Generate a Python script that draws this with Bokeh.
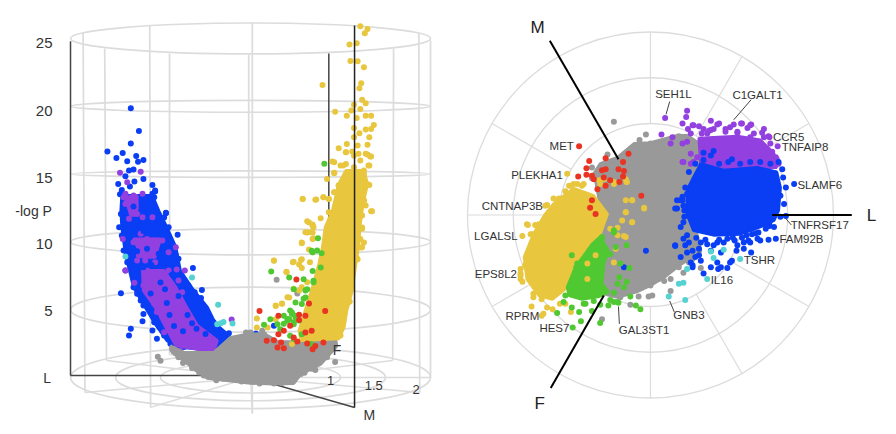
from bokeh.plotting import figure
from bokeh.layouts import row
from bokeh.embed import file_html
from bokeh.resources import INLINE
from bokeh.core.properties import value
import math

# ---------- left panel: projected fold (x) against -log P (y) ----------
ring_levels = [25, 20, 15, 10, 5, 0]
ring_flatness = [1.14, .44, .24, .96, 1.66, 2.29]
floor_radii = [1, 1.5]
wall_x0 = [-1.86, -1.62, -1.12, -0.9, 0.02, -0.02, 1.59, 1.87, 2.0]
wall_y0 = [25.44, 24.26, 25.96, 23.9, 26.18, 23.8, 24.26, 25.37, 24.85]
wall_x1 = [-1.84, -1.6, -1.11, -0.9, 0.02, -0.02, 1.58, 1.88, 2.0]
wall_y1 = [-1.11, 1.25, -2.21, 1.7, -2.65, 1.84, 1.25, -1.11, 0]

left_blue_core = [(-1.43,13.42),(-1.44,12.31),(-1.43,11.08),(-1.39,9.12),(-1.30,6.66),(-1.17,5.18),(-1.06,3.96),(-0.93,2.73),(-0.81,2.24),(-0.41,1.99),(-0.24,3.10),(-0.39,3.96),(-0.48,5.18),(-0.63,6.41),(-0.78,7.89),(-0.83,9.61),(-0.93,11.08),(-1.02,12.31),(-1.09,13.42)]
left_purple_core = [(-1.20,7.89),(-1.19,6.41),(-1.06,5.18),(-0.94,3.71),(-0.83,2.36),(-0.41,1.87),(-0.37,2.73),(-0.59,3.83),(-0.72,5.31),(-0.83,6.66),(-0.96,7.89)]
left_purple_mid = [(-1.30,10.22),(-1.0,10.22),(-1.06,8.87),(-1.20,8.87)]
left_purple_top = [(-1.39,13.29),(-1.26,13.42),(-1.26,12.43),(-1.33,11.94)]
left_gray_core = [(-0.89,2.33),(-0.74,1.84),(-0.41,1.84),(-0.22,2.95),(-0.04,3.19),(0.15,3.24),(0.30,2.65),(0.89,2.58),(0.94,2.9),(0.96,2.33),(0.78,0.98),(0.56,0.25),(0.48,-0.44),(0.26,-0.49),(0,-0.42),(-0.48,-0.05),(-0.59,0.44),(-0.74,1.23),(-0.87,1.84)]
left_yellow_core = [(1.06,15.26),(1.26,15.26),(1.30,14.27),(1.25,12.8),(1.22,11.33),(1.20,9.61),(1.17,8.38),(1.13,6.41),(1.07,4.94),(1.04,3.71),(0.98,2.85),(0.56,2.73),(0.54,3.46),(0.63,5.43),(0.70,6.90),(0.76,8.38),(0.80,9.61),(0.83,11.08),(0.91,12.31),(0.98,14.27)]

left_blue = [(-1.33,19.85),(-1.24,18.18),(-1.33,17.25),(-1.59,16.66),(-1.49,16.19),(-1.42,16.56),(-1.27,16.34),(-1.19,16.04),(-1.37,15.95),(-1.25,15.9),(-1.35,15.26),(-1.30,15.33),(-1.39,14.84),(-1.19,14.64),(-1.47,14.27),(-1.29,14.45),(-1.09,14.2),(-1.43,13.83),(-1.06,13.71),(-1.45,13.51),(-1.34,14.08),(-1.07,13.29),(-1.11,12.85),(-1.41,12.56),(-0.94,12.14),(-1.43,12.06),(-1.22,12.56),(-1.17,12.06),(-0.96,11.8),(0.06,3.24),(0.26,3.81)]
left_blue_edge = [(-1.46,11.08),(-1.43,10.47),(-1.41,9.36),(-1.37,8.50),(-1.44,6.22),(-1.26,6.17),(-1.19,5.31),(-1.19,4.69),(-1.20,4.15),(-1.33,3.59),(-1.35,3.10),(-1.07,4.08),(-1.04,2.85),(-0.96,3.10),(-1.09,3.46),(-0.89,2.48),(-0.94,12.11),(-0.98,11.70),(-0.91,11.08),(-0.81,10.52),(-0.87,9.73),(-0.83,8.99),(-0.80,8.75),(-0.85,8.01),(-0.64,8.08),(-0.69,6.78),(-0.62,6.29),(-0.54,6.46),(-0.55,5.87),(-0.46,4.57),(-0.41,4.08),(-0.24,3.27),(-0.33,3.34),(-1.39,7.89),(-1.30,6.66),(-1.22,5.68),(-1.13,5.18),(-1.09,13.54),(-1.06,13.78),(-1.11,12.80),(-1.19,12.56),(-1.44,12.06),(-1.43,13.54),(-1.0,11.33),(-1.04,10.96),(-0.78,7.64),(-0.67,6.17),(-0.59,5.43),(-0.52,4.94),(-0.44,3.71),(-0.37,3.22),(-0.30,2.97),(-0.59,4.45),(-0.70,3.96),(-0.74,4.94),(-0.63,3.46),(-0.48,2.97),(-0.56,2.48),(-0.74,2.24)]
left_purple = [(-1.45,15.09),(-1.22,15.18),(-1.37,14.4),(-1.20,13.54),(-1.41,13.29),(-1.37,13.05),(-1.31,12.92),(-1.28,12.43),(-1.39,13.54),(-1.26,12.06),(-1.33,12.43),(-1.20,11.82),(-1.39,12.8),(-1.33,12.80),(-1.28,12.68),(-1.30,13.42),(-1.30,12.06),(-1.35,11.70),(-1.22,10.59),(-1.15,10.22),(-1.07,10.10),(-1.30,9.98),(-1.22,9.73),(-1.13,9.61),(-1.20,9.24),(-1.24,8.99),(-1.11,9.12),(-1.17,8.62),(-1.26,8.62),(-1.06,8.50),(-1.09,7.76),(-1.02,7.64),(-1.15,7.89),(-1.11,7.27),(-0.96,7.27),(-1.19,6.78),(-0.91,7.89),(-0.83,9.61),(-0.73,7.89),(-0.82,7.96),(-1.39,7.89),(-1.29,6.98),(-1.42,10.22),(-1.09,11.82),(-0.98,10.10),(-0.91,9.24),(-0.80,7.15),(-0.76,6.29),(-1.04,4.82),(-1.07,5.43),(-0.96,5.18),(-0.74,4.20),(-0.67,4.32),(-0.56,2.85),(-0.96,3.34),(-0.83,2.97),(-0.74,2.85),(-0.56,2.11),(-0.78,1.99),(-0.21,4.28),(-0.16,1.74),(-0.11,1.87),(-0.26,1.87),(-0.41,1.70),(-0.48,1.99),(-0.63,2.24),(-0.81,4.32),(-0.87,5.43)]
left_blue_over = [(-1.02,9.12),(-0.98,8.50),(-1.19,8.13),(-0.93,5.5),(-1.11,6.2),(-0.87,7.6),(-1.19,10.8),(-1.25,11.5),(-1.0,7.0),(-0.95,6.5),(-0.7,4.6),(-0.6,3.6),(-0.5,3.2),(-0.85,3.8),(-1.05,4.4),(-1.26,9.3),(-1.15,9.5),(-1.1,8.3),(-1.3,11.0),(-1.15,11.2),(-0.8,6.0),(-0.65,4.0),(-0.9,4.6),(-0.75,3.4),(-1.3,12.6)]
left_teal = [(-1.39,8.92),(-0.65,7.37),(-0.36,5.36),(-0.37,3.93),(-0.30,4.1),(-0.2,3.98),(-0.33,4.0)]
left_gray = [(-1.03,1.52),(-1.0,1.23),(-0.75,1.06),(-0.87,2.09),(0.29,7.2),(0.52,6.19),(0.94,1.15),(-0.05,3.32),(0,3.32),(0.13,3.44),(0.15,3.19),(0.48,-0.25),(0.26,-0.45),(-0.46,0.05),(-0.57,0.37),(0.87,2.58),(0.93,2.7),(0.93,2.46),(0.70,0.98),(0.56,0.25),(-0.19,-0.12),(-0.3,-0.1),(-0.1,-0.3),(0.1,-0.45),(0.35,-0.4),(0.42,-0.2),(0.6,0.35),(0.68,0.65),(0.85,1.5),(-0.52,0.15),(-0.65,0.7),(-0.8,1.5),(-0.38,-0.2),(0.72,0.55)]
left_yellow = [(1.22,25.9),(1.30,25.7),(1.27,25.38),(1.10,24.55),(1.18,24.64),(1.11,23.34),(1.19,23.32),(1.26,22.87),(0.80,21.57),(1.23,21.7),(1.21,21.33),(1.24,20.49),(1.28,20.22),(1.15,20.12),(0.94,19.6),(1.12,19.68),(1.22,19.8),(1.07,19.31),(1.18,19.14),(1.28,19.31),(1.34,19.31),(1.37,18.62),(1.28,18.28),(1.34,18.33),(1.15,18.4),(1.21,18.01),(1.32,17.71),(1.15,17.71),(1.30,17.17),(0.98,16.9),(1.07,17.22),(1.19,17.1),(1.06,16.61),(1.15,16.36),(1.30,16.44),(1.34,16.29),(0.91,15.92),(1.32,15.63),(1.0,15.63),(0.93,15.09),(1.26,15.01),(0.85,14.64),(1.32,14.2),(0.98,14.15),(0.93,13.66),(0.58,13.17),(0.73,13.12),(0.81,13.29),(0.87,13.17),(1.35,12.26),(1.26,13.05),(0.87,12.19),(0.65,11.43),(0.69,11.18),(0.63,10.69),(0.69,10.69),(0.57,9.95),(0.70,10.27),(1.24,11.06),(1.26,9.95),(1.23,9.58),(1.19,8.72),(0.26,8.6),(0.48,8.53),(0.57,8.72),(0.40,7.79),(0.28,5.28),(0.35,5.45),(0.43,5.9),(0.07,4.35),(0.19,3.69),(0.07,3.69),(0.28,4.3),(1.10,5.58),(0.46,2.46),(1.04,4.91)]
left_yellow_edge = [(1.06,16.61),(1.13,16.66),(1.20,16.49),(1.28,16.49),(1.33,16.29),(1.22,16.0),(1.31,15.63),(1.06,15.75),(1.15,15.50),(1.26,15.26),(1.24,15.01),(0.93,15.87),(1.03,15.63),(0.93,15.06),(0.98,14.15),(1.07,14.77),(1.15,14.89),(1.31,14.23),(1.24,14.03),(1.26,13.05),(1.28,12.68),(1.24,11.94),(1.34,12.26),(0.87,13.17),(0.81,13.29),(0.72,13.10),(0.58,13.17),(0.93,13.66),(1.0,13.54),(0.78,11.74),(0.63,11.52),(0.69,11.28),(0.70,11.08),(0.61,10.71),(0.67,10.71),(0.57,9.90),(0.69,10.22),(0.65,9.43),(0.69,9.24),(1.24,10.96),(1.22,10.22),(1.18,9.73),(1.24,9.61),(1.18,8.80),(0.26,8.62),(0.47,8.50),(0.56,8.67),(0.54,8.33),(0.57,8.08),(0.66,8.50),(0.40,7.76),(0.41,5.92),(1.10,5.60),(0.28,5.31),(0.35,5.43),(0.98,3.46),(1.0,3.10),(0.48,6.54),(0.57,6.66),(0.63,7.03),(0.54,6.41)]
left_green = [(0.82,15.77),(0.75,10.27),(0.68,9.34),(0.79,9.16),(0.23,7.81),(0.43,7.37),(0.59,7.25),(0.70,7.13),(0.48,6.51),(0.63,6.51),(0.61,5.9),(0.5,5.53),(0.46,4.79),(0.5,4.55),(0.37,4.55),(0.43,4.3),(0.22,4.3),(0.15,3.88),(0.30,3.93),(0.41,4.18),(0.48,3.93),(0.33,3.56),(0.48,2.83),(0.57,3.19),(0.67,2.46),(0.44,3.07),(0.57,5.41),(0.78,8.11),(0.69,7.86),(0.46,4.69),(0.5,4.45),(0.44,4.94),(0.41,4.32),(0.48,4.08),(0.37,3.96),(0.54,4.2),(0.70,7.03),(0.69,9.24),(0.74,9.36),(0.59,5.80),(0.61,6.41)]
left_red = [(0.10,4.91),(0.51,7.22),(0.65,5.45),(0.83,4.91),(0.54,4.62),(0.61,4.55),(0.31,4.55),(0.54,4.23),(0.44,3.81),(0.31,3.19),(0.37,3.44),(0.61,3.32),(0.68,3.44),(0.48,2.95),(0.52,2.65),(0.18,2.7),(0.26,2.75),(0.34,2.58),(0.30,2.21),(0.37,2.16),(0.63,2.51),(0.72,2.33),(0.81,2.58),(0.69,2.09)]

left_ticks = [25, 20, 15, 10, 5]
left_tick_y = [24.63, 19.62, 14.7, 9.81, 4.87]
radial_ticks = ["1", "1.5", "2"]
radial_tick_x = [0.89, 1.37, 1.84]
radial_tick_y = [-0.22, -0.59, -0.88]

# ---------- right panel: polar projection of fold changes ----------
polar_radii = [1, 1.5, 2]
right_blue_core = [(0.55,0.56),(0.80,0.49),(1.17,0.52),(1.38,0.47),(1.42,0.30),(1.40,0.05),(1.35,-0.06),(1.20,-0.13),(0.98,-0.21),(0.69,-0.22),(0.47,-0.17),(0.40,0.01),(0.40,0.27),(0.47,0.41)]
right_purple_core = [(0.53,0.84),(0.95,0.86),(1.20,0.82),(1.35,0.67),(1.38,0.52),(0.55,0.52)]
right_gray_core = [(-0.18,0.78),(0,0.79),(0.29,0.87),(0.40,0.87),(0.6,0.74),(0.55,0.45),(0.5,0.12),(0.5,0.01),(0.5,-0.17),(0.55,-0.40),(0.33,-0.54),(0.15,-0.68),(0,-0.77),(-0.15,-0.84),(-0.36,-0.90),(-0.55,-0.85),(-0.6,-0.3),(-0.55,0.1),(-0.6,0.38),(-0.66,0.39),(-0.55,0.56),(-0.36,0.63)]
right_yellow_core = [(-1.06,0.12),(-0.84,0.29),(-0.62,0.21),(-0.47,0.01),(-0.55,-0.21),(-0.66,-0.33),(-0.82,-0.57),(-0.91,-0.79),(-1.07,-0.92),(-1.22,-0.88),(-1.35,-0.70),(-1.38,-0.46),(-1.28,-0.21),(-1.15,0.01)]
right_green_core = [(-0.55,-0.24),(-0.46,-0.39),(-0.51,-0.53),(-0.53,-0.75),(-0.46,-0.84),(-0.56,-0.89),(-0.75,-0.92),(-0.89,-0.88),(-0.91,-0.79),(-0.82,-0.57),(-0.71,-0.42),(-0.64,-0.32)]

right_blue = [(1.57,0.34),(0.42,0.47),(0.33,0.16),(0.29,0.07),(0.49,0.56),(-0.05,-0.39),(0.27,-0.34),(0.33,-0.46),(0.40,-0.41),(0.53,-0.37),(0.58,-0.64),(0.74,-0.59),(0.84,-0.58),(0.66,-0.57),(0.89,-0.50),(0.73,-0.52),(1.10,-0.41),(1.02,-0.37),(0.94,-0.39),(1.37,-0.26),(1.29,-0.27),(1.20,-0.28),(1.07,-0.28),(0.46,-0.57),(0.55,-0.50),(-0.29,-0.57)]
right_blue_edge = [(.58,.60),(.69,.70),(.66,.65),(.75,.56),(.89,.61),(.98,.56),(1.09,.58),(1.31,.56),(1.40,.58),(1.44,.50),(1.45,.41),(1.48,.30),(1.42,.21),(1.46,.12),(1.48,-.01),(1.42,-.02),(1.35,-.13),(1.26,-.15),(1.18,-.19),(1.11,-.21),(1.02,-.30),(1.09,-.30),(1.17,-.26),(.84,-.26),(.73,-.30),(.69,-.33),(.27,-.33),(.38,-.33),(.36,-.26),(.27,.07),(.36,-.08),(.33,-.13),(.40,-.22),(.35,.16),(.29,.16),(.38,.30),(.40,.23),(.46,-.39),(.53,-.44),(.77,-.41),(.66,-.39),(.87,-.52),(.77,-.57),(.44,-.52),(.46,-.55),(.49,-.46),(.95,-.33),(.58,.68),(.85,.58),(1.2,.58),(1.3,-.08),(1.25,-.1),(1.1,-.15),(1.0,-.25),(.9,-.25),(.75,-.27),(.6,-.27),(.5,-.25),(.55,-.3),(.62,-.32),(.8,-.3),(.92,-.28),(1.05,-.22),(1.15,-.2),(1.3,-.12),(.42,-.3),(.35,.2),(.37,.05),(.37,-.02),(.36,.1)]
right_purple = [(0.16,1.06),(0.40,1.14),(0.39,1.07),(0.35,1.0),(0.12,0.88),(0.24,0.85),(0.47,0.98),(0.53,0.97),(0.41,0.94),(0.73,0.99),(0.91,0.99),(0.99,1.0),(1.10,0.99),(1.06,0.95),(0.66,0.93),(0.82,0.94),(1.22,0.90),(1.30,0.85),(1.39,0.75),(1.24,0.85),(1.31,0.78),(1.37,0.63),(1.40,0.56),(0.22,0.78),(0.35,0.78),(0.36,0.58),(0.44,0.56),(0.51,0.63),(0.62,0.89),(0.95,0.90),(1.13,0.89),(0.87,0.96),(0.58,0.94),(.46,.98),(.66,1.03),(.75,1.0),(.69,.94),(1.0,1.0),(1.09,.98),(.44,.89),(.56,.89),(.64,.92),(.82,.91),(.95,.91),(1.24,.94),(1.09,.85),(1.29,.86),(1.33,.69),(1.27,.72),(1.18,.80),(.40,.80),(.44,.67),(.35,.58),(.47,.58),(1.38,.61),(1.31,.60),(.77,.81),(.55,.81)]
right_yellow = [(-0.91,0.45),(-1.13,0.11),(-1.06,0.18),(-1.0,0.18),(-0.93,0.26),(-0.87,0.32),(-0.80,0.34),(-0.73,0.34),(-0.91,0.19),(-0.27,0.39),(-0.26,0.36),(-0.40,0.34),(-0.51,0.39),(-0.27,0.16),(-0.20,0.16),(-0.07,0.07),(-0.27,0.03),(-1.06,0.01),(-1.40,-0.23),(-1.34,-0.11),(-1.22,-0.10),(-1.31,-0.21),(-1.42,-0.64),(-1.42,-0.70),(-1.30,-1.0),(-1.17,-1.08),(-1.19,-1.10),(-1.13,-1.01),(-1.07,-1.03),(-1.28,-0.90),(-0.87,-1.06),(-0.93,-0.97),(-0.31,-0.06),(-0.27,-0.24),(-0.38,-0.37),(-0.40,-0.52),(-0.36,-0.14),(-0.20,-0.08),(-1.15,.10),(-.97,.18),(-.89,.32),(-.84,.34),(-.75,.32),(-1.35,-.10),(-1.29,-.21),(-1.26,-.11),(-1.42,-.59),(-1.42,-.66),(-1.40,-.73),(-1.37,-.55),(-1.28,-.86),(-1.19,-.92),(-.99,-.97),(-.40,.36),(-.26,.36),(-.20,.16),(-.07,.08),(-.27,.03),(-.20,-.08),(-.36,-.22),(-.29,-.23),(-.44,-.15),(-.55,.34),(-.56,.38),(-.87,.21)]
right_yellow_over = [(-.60,-.44),(-.69,-.53),(-.69,-.70)]
right_green = [(-0.40,-0.17),(-0.53,-0.24),(-0.38,-0.35),(-0.44,-0.43),(-0.86,-0.44),(-0.81,-0.57),(-0.85,-1.23),(-1.02,-1.07),(-0.76,-1.16),(-0.55,-1.18),(-0.11,-1.03),(-0.16,-0.99),(-0.35,-0.96),(-0.40,-0.95),(-0.46,-0.99),(-0.22,-0.89),(-0.29,-0.79),(-0.23,-0.58),(-0.34,-0.68),(-0.86,-1.01),(-0.78,-1.06),(-0.64,-1.05),(-0.93,-0.88),(-0.73,-0.97),(-0.55,-0.98),(-0.62,-0.94),(-0.40,-0.85),(-.80,-.53),(-.40,-.19),(-.53,-.26),(-.26,-.33),(-.33,-.53),(-.26,-.73),(-.36,-.75),(-.95,-.95),(-.44,-.93),(-.36,-.95),(-.71,-.97)]
right_red = [(-0.78,0.75),(-0.30,0.58),(-0.49,0.62),(-0.24,0.67),(-0.67,0.59),(-0.70,0.51),(-0.70,0.44),(-0.53,0.49),(-0.49,0.50),(-0.35,0.50),(-0.29,0.48),(-0.64,0.43),(-0.62,0.39),(-0.79,0.42),(-0.51,0.41),(-0.44,0.38),(-0.30,0.42),(-0.34,0.36),(-0.49,0.32),(-0.10,0.21),(-0.58,0.28),(-0.64,0.16),(-0.60,0.01),(-0.66,0.08)]
right_gray = [(-0.40,1.02),(-0.05,0.88),(-0.12,0.82),(-0.16,0.75),(0,0.78),(0.15,0.79),(0.07,0.78),(-0.47,0.66),(-0.40,0.59),(-0.56,0.50),(-0.64,0.52),(-0.53,0.54),(0.31,0.86),(-0.02,-0.89),(0.02,-0.88),(-0.13,-0.89),(-0.22,-0.98),(-0.33,-0.90),(0.22,-0.83),(0,-0.77),(0.15,-0.72),(0.22,-0.70),(0.09,-0.70),(0.36,-0.63),(0.31,-0.57),(0.55,-0.58),(-0.53,-1.14),(0.29,-0.5),(0.46,-0.48),(0.42,-0.52)]
right_teal = [(0.62,-0.70),(0.98,-0.48),(0.20,-0.89),(0.38,-0.93),(0.31,-0.75),(0.36,-0.74),(0.40,-0.59),(0.66,-0.40),(0.80,-0.38),(0.69,-0.47)]

gene_names = ["SEH1L","C1GALT1","CCR5","TNFAIP8","MET","PLEKHA1","SLAMF6","CNTNAP3B","TNFRSF17","FAM92B","LGALSL","TSHR","IL16","EPS8L2","RPRM","HES7","GNB3","GAL3ST1"]
gene_x = [0.25,1.17,1.51,1.69,-0.97,-1.24,1.85,-1.51,1.85,1.65,-1.69,1.19,0.78,-1.69,-1.40,-1.05,0.42,-0.07]
gene_y = [1.32,1.31,0.85,0.74,0.75,0.44,0.33,0.10,-0.11,-0.26,-0.23,-0.49,-0.71,-0.64,-1.10,-1.23,-1.09,-1.26]
leader_x0 = [0.21,1.10,-0.35,0.21,1.48]
leader_y0 = [1.24,1.26,-1.0,-0.94,-0.04]
leader_x1 = [0.17,0.91,-0.34,0.26,1.54]
leader_y1 = [1.10,1.04,-1.19,-1.06,-0.11]

BLUE, PURPLE, YELLOW, GRAY = "#0a3ef5", "#9340e0", "#e8c63e", "#999999"
GREEN, RED, TEAL, RING = "#50c832", "#e93323", "#55d2d2", "#dcdcdc"
FONT = value("Liberation Sans")


def base(xr, yr):
    f = figure(width=440, height=430, x_range=xr, y_range=yr, output_backend="svg",
               toolbar_location=None, min_border=0, background_fill_color="white",
               outline_line_color=None, border_fill_color="white")
    f.axis.visible = False
    f.grid.visible = False
    return f


def dots(f, pts, color, size=6):
    xs, ys = zip(*pts)
    f.scatter(list(xs), list(ys), size=size, fill_color=color, line_color=None)


def core(f, pts, color):
    xs, ys = zip(*pts)
    f.patch(list(xs), list(ys), fill_color=color, line_color=color, line_width=3)


def label(f, x, y, text, size, align="center", color="#333333"):
    f.text(x=[x], y=[y], text=[text], text_font=FONT, text_font_size=size, text_color=color,
           text_align=align, text_baseline="middle")


# ---------- left ----------
a = base((-2.778, 2.111), (-3.91, 27.80))
a.ellipse(x=[0] * 6, y=ring_levels, width=[4] * 6, height=[2 * r for r in ring_flatness],
          fill_color=None, line_color=RING, line_width=1.7)
a.ellipse(x=[0, 0], y=[0, 0], width=[2 * r for r in floor_radii],
          height=[2 * ring_flatness[-1] * r / 2 for r in floor_radii],
          fill_color=None, line_color=RING, line_width=1.7)
a.segment(wall_x0, wall_y0, wall_x1, wall_y1, line_color=RING, line_width=1.7)
a.segment([0] * 9, [0] * 9, wall_x1, wall_y1, line_color=RING, line_width=1.4)
a.segment([-2, -2, 0.87, 0, 0], [24.8, 0.15, 23.9, 0, 0],
          [-2, -0.55, 0.87, 1.156, 0.9], [0.15, 0.15, 9.4, -2.21, 2.2],
          line_color="#444444", line_width=1.5)
core(a, left_blue_core, BLUE)
dots(a, left_blue, BLUE)
dots(a, left_blue_edge, BLUE)
core(a, left_purple_core, PURPLE)
core(a, left_purple_mid, PURPLE)
core(a, left_purple_top, PURPLE)
dots(a, left_purple, PURPLE)
dots(a, left_blue_over, BLUE)
dots(a, left_teal, TEAL)
core(a, left_gray_core, GRAY)
dots(a, left_gray, GRAY)
core(a, left_yellow_core, YELLOW)
dots(a, left_yellow, YELLOW)
dots(a, left_yellow_edge, YELLOW)
dots(a, left_green, GREEN)
dots(a, left_red, RED)
a.segment([1.156], [25.96], [1.156], [-2.21], line_color="#222222", line_width=1.5)
for t, y in zip(left_ticks, left_tick_y):
    label(a, -2.2, y, str(t), "15px", "right")
label(a, -2.41, 12.24, "-log P", "14px")
label(a, -2.26, -0.07, "L", "14px")
label(a, 0.96, 1.99, "F", "14px")
label(a, 1.32, -2.8, "M", "14px")
for t, x, y in zip(radial_ticks, radial_tick_x, radial_tick_y):
    label(a, x, y, t, "13px")

# ---------- right ----------
b = base((-2.295, 2.514), (-2.355, 2.344))
theta = [i * math.pi / 6 for i in range(12)]
b.segment([polar_radii[0] * math.cos(t) for t in theta], [polar_radii[0] * math.sin(t) for t in theta],
          [polar_radii[2] * math.cos(t) for t in theta], [polar_radii[2] * math.sin(t) for t in theta],
          line_color=RING, line_width=1.2)
b.circle(x=[0] * 3, y=[0] * 3, radius=polar_radii, fill_color=None, line_color=RING, line_width=1.3)
core(b, right_gray_core, GRAY)
dots(b, right_gray, GRAY)
core(b, right_yellow_core, YELLOW)
dots(b, right_yellow, YELLOW)
core(b, right_purple_core, PURPLE)
dots(b, right_purple, PURPLE)
core(b, right_blue_core, BLUE)
dots(b, right_blue, BLUE)
dots(b, right_blue_edge, BLUE)
core(b, right_green_core, GREEN)
dots(b, right_green, GREEN)
dots(b, right_yellow_over, YELLOW)
dots(b, right_red, RED)
dots(b, right_teal, TEAL)
b.segment([-1.10, -1.09, 1.33], [1.905, -1.89, 0], [-0.35, -0.51, 2.2], [0.61, -0.88, 0],
          line_color="black", line_width=2)
b.segment(leader_x0, leader_y0, leader_x1, leader_y1, line_color="#444444", line_width=1)
for n, x, y in zip(gene_names, gene_x, gene_y):
    label(b, x, y, n, "11.5px")
label(b, -1.235, 2.05, "M", "17px", color="#222222")
label(b, -1.21, -2.06, "F", "17px", color="#222222")
label(b, 2.415, -0.005, "L", "17px", color="#222222")

page = row(a, b)
open("out.html", "w").write(file_html(page, INLINE))
